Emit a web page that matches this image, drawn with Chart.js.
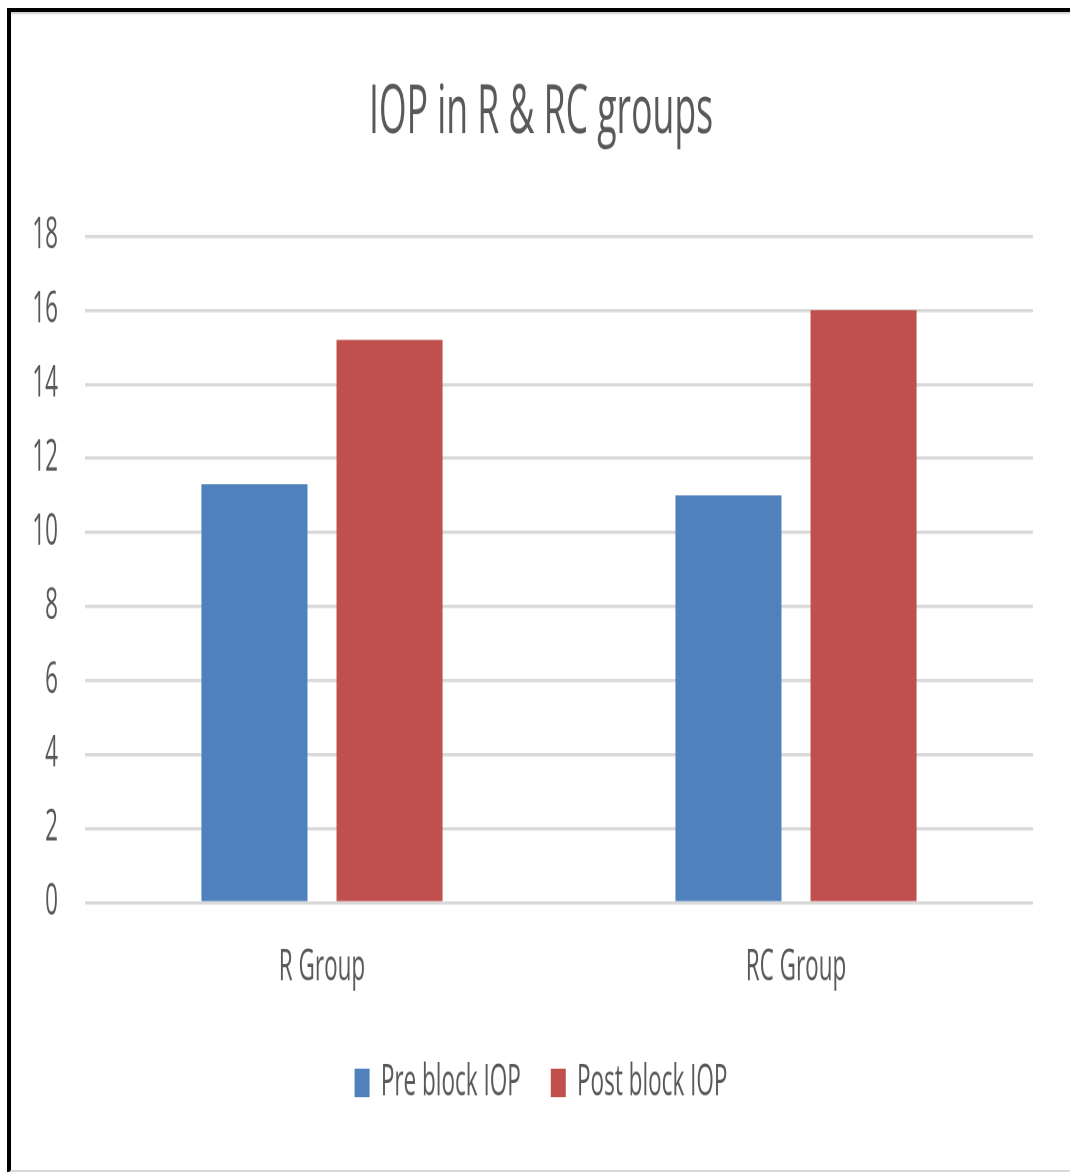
<!DOCTYPE html>
<html>
<head>
<meta charset="utf-8">
<script src="https://cdn.jsdelivr.net/npm/chart.js@4/dist/chart.umd.min.js"></script>
<style>
  html, body { margin: 0; padding: 0; background: #fff; }
  body { width: 1070px; height: 1172px; position: relative; overflow: hidden; }
  /* the chart is laid out short and stretched vertically so its text looks tall and narrow */
  #wrap {
    position: absolute; left: 0; top: 0;
    width: 1070px; height: 616.84px;
    transform: scaleY(1.9); transform-origin: 0 0;
  }
  #frame {
    position: absolute; left: 7px; top: 8px; width: 1080px; height: 1158px;
    border-left: 4px solid #000; border-top: 4px solid #000;
    border-bottom: 4px solid #d9d9d9;
    box-shadow: inset 0 4px 2px -2px #d0d0d0;
    pointer-events: none;
  }
</style>
</head>
<body>
<div id="wrap"><canvas id="chart"></canvas></div>
<div id="frame"></div>
<script>
const categories = ['R Group', 'RC Group'];
const preBlockIOP = [11.3, 11.0];
const postBlockIOP = [15.2, 16.0];
const seriesNames = ['Pre block IOP', 'Post block IOP'];
const yTicks = [0, 2, 4, 6, 8, 10, 12, 14, 16, 18];

const textColor = '#595959';
const fontFamily = '"Open Sans", Calibri, sans-serif';

new Chart(document.getElementById('chart'), {
  type: 'bar',
  data: {
    labels: categories,
    datasets: [
      { label: seriesNames[0], data: preBlockIOP, backgroundColor: '#4f81bd' },
      { label: seriesNames[1], data: postBlockIOP, backgroundColor: '#c0504d' }
    ]
  },
  options: {
    responsive: true,
    maintainAspectRatio: false,
    devicePixelRatio: 2,
    animation: false,
    categoryPercentage: 0.57,
    barPercentage: 0.785,
    layout: { padding: { left: 30, right: 18, top: 0, bottom: 26.1 } },
    plugins: {
      title: {
        display: true,
        text: 'IOP in R & RC groups',
        color: textColor,
        font: { family: fontFamily, size: 35.6, weight: 'normal' },
        padding: { top: 38.5, bottom: 43 }
      },
      legend: {
        position: 'bottom',
        labels: {
          color: textColor,
          font: { family: fontFamily, size: 22.5 },
          boxWidth: 15,
          boxHeight: 15,
          padding: 30
        }
      },
      tooltip: { enabled: false }
    },
    scales: {
      x: {
        grid: { display: false },
        border: { display: false },
        afterFit: (scale) => { scale.height = 53.5; },
        ticks: {
          color: textColor,
          font: { family: fontFamily, size: 22.5 },
          padding: 12.8
        }
      },
      y: {
        min: 0,
        max: 18,
        afterBuildTicks: (scale) => { scale.ticks = yTicks.map(v => ({ value: v })); },
        afterFit: (scale) => { scale.width = 55; },
        grid: { color: '#d9d9d9', lineWidth: 1.7, drawTicks: false },
        border: { display: false },
        ticks: {
          color: textColor,
          font: { family: fontFamily, size: 22.5 },
          padding: 27
        }
      },
      // blank right-hand margin strip, keeps the plot narrower than the title/legend band
      yRight: {
        position: 'right',
        min: 0,
        max: 18,
        afterFit: (scale) => { scale.width = 19; },
        grid: { display: false },
        border: { display: false },
        ticks: { display: false }
      }
    }
  }
});
</script>
</body>
</html>
